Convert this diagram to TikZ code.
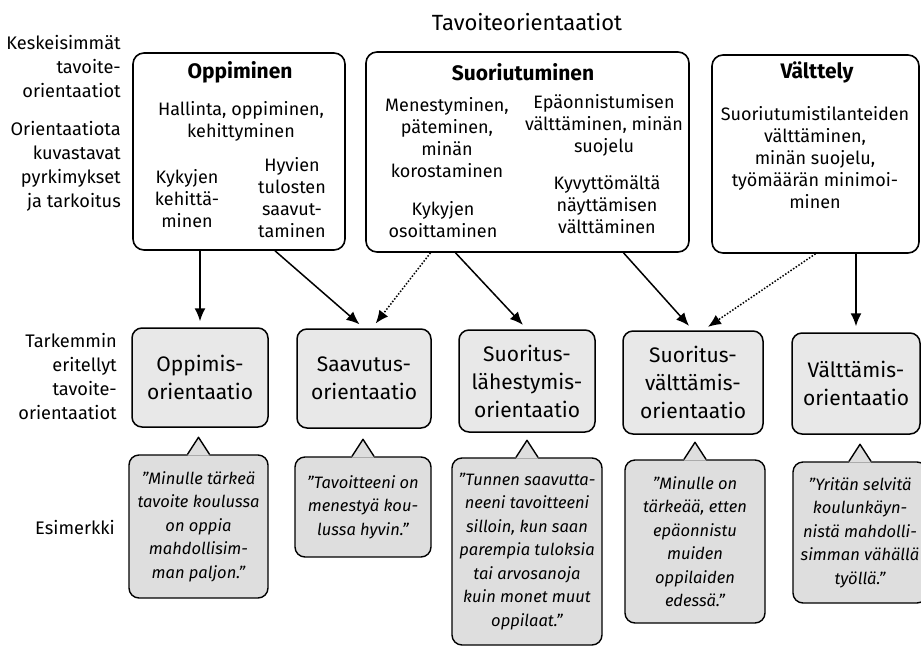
\documentclass[tikz,border=0pt]{standalone}
\usepackage{fontspec}
\setmainfont{Fira Sans}
\usepackage{xcolor}
\usetikzlibrary{arrows.meta}
\definecolor{boxgray}{HTML}{E8E8E8}
\definecolor{callgray}{HTML}{DEDEDE}
\tikzset{top/.style={draw,rounded corners=11pt,line width=1.6pt,inner sep=0pt},
  mid/.style={draw,fill=boxgray,rounded corners=10pt,line width=1.5pt,align=center,inner sep=0pt,font=\fontsize{21}{28}\selectfont},
  ex/.style={draw,fill=callgray,rounded corners=10pt,line width=1.4pt,align=center,inner sep=0pt,font=\fontsize{16.5}{23.5}\selectfont\itshape},
  ttl/.style={font=\fontsize{21}{24}\selectfont\bfseries},
  txt/.style={align=center,inner sep=0pt,font=\fontsize{18}{22}\selectfont},
  side/.style={align=right,anchor=east,inner sep=0pt,font=\fontsize{18.2}{24}\selectfont},
  arr/.style={->,line width=1.5pt,shorten >=6pt},
  dots/.style={->,line width=1.5pt,shorten >=6pt,dash pattern=on 1.5pt off 1.7pt}}

\begin{document}
\begin{tikzpicture}[x=1pt,y=-1pt,>={Latex[length=13pt,width=11pt]}]
        \useasboundingbox (0,0) rectangle (921,646);
        \node[txt,font=\fontsize{22}{24}\selectfont] (t) at (527,22) {Tavoiteorientaatiot};

        % rivien otsikot
        \node[side] (s1) at (121,67) {Keskeisimmät\\tavoite-\\orientaatiot};
        \node[side] (s2) at (121,166) {Orientaatiota\\kuvastavat\\pyrkimykset\\ja tarkoitus};
        \node[side] (s3) at (117,377) {Tarkemmin\\eritellyt\\tavoite-\\orientaatiot};
        \node[side] (s4) at (115,528) {Esimerkki};

        % keskeisimmat
        \node[top,minimum width=212pt,minimum height=197pt] (a) at (239,151.5) {};
        \node[top,minimum width=323pt,minimum height=200pt] (b) at (527.5,152) {};
        \node[top,minimum width=207pt,minimum height=198pt] (c) at (815.5,154) {};
        \node[ttl] (a0) at (240,72) {Oppiminen};
        \node[txt] (a1) at (241,121) {Hallinta, oppiminen,\\kehittyminen};
        \node[txt] (a2) at (187,199) {Kykyjen\\kehittä-\\minen};
        \node[txt] (a3) at (292,198) {Hyvien\\tulosten\\saavut-\\taminen};
        \node[ttl] (b0) at (523,72) {Suoriutuminen};
        \node[txt] (b1) at (447,138) {Menestyminen,\\päteminen,\\minän\\korostaminen};
        \node[txt] (b2) at (443,220) {Kykyjen\\osoittaminen};
        \node[txt] (b3) at (604,125) {Epäonnistumisen\\välttäminen, minän\\suojelu};
        \node[txt] (b4) at (607,205) {Kyvyttömältä\\näyttämisen\\välttäminen};
        \node[ttl] (c0) at (817,72) {Välttely};
        \node[txt] (c1) at (815,158) {Suoriutumistilanteiden\\välttäminen,\\minän suojelu,\\työmäärän minimoi-\\minen};

        % tarkemmat
        \node[mid,minimum width=136pt,minimum height=99pt] (m1) at (200,377.5) {Oppimis-\\orientaatio};
        \node[mid,minimum width=134pt,minimum height=99pt] (m2) at (364,378.5) {Saavutus-\\orientaatio};
        \node[mid,minimum width=136pt,minimum height=102pt] (m3) at (527,381) {Suoritus-\\lähestymis-\\orientaatio};
        \node[mid,minimum width=140pt,minimum height=103pt] (m4) at (693,382.5) {Suoritus-\\välttämis-\\orientaatio};
        \node[mid,minimum width=128pt,minimum height=101pt] (m5) at (856,383.5) {Välttämis-\\orientaatio};

        % esimerkit
        \node[ex,minimum width=139pt,minimum height=143pt] (e1) at (198.5,526.5) {”Minulle tärkeä\\tavoite koulussa\\on oppia\\mahdollisim-\\man paljon.”};
        \node[ex,minimum width=136pt,minimum height=100pt] (e2) at (363,507) {”Tavoitteeni on\\menestyä kou-\\lussa hyvin.”};
        \node[ex,minimum width=150pt,minimum height=187pt] (e3) at (527,551.5) {”Tunnen saavutta-\\neeni tavoitteeni\\silloin, kun saan\\parempia tuloksia\\tai arvosanoja\\kuin monet muut\\oppilaat.”};
        \node[ex,minimum width=140pt,minimum height=163pt] (e4) at (695,541.5) {”Minulle on\\tärkeää, etten\\epäonnistu\\muiden\\oppilaiden\\edessä.”};
        \node[ex,minimum width=134pt,minimum height=141pt] (e5) at (860,532.5) {”Yritän selvitä\\koulunkäyn-\\nistä mahdolli-\\simman vähällä\\työllä.”};
        \foreach \n in {1,...,5}{
            \fill[callgray] ([xshift=-11pt,yshift=-1.2pt]e\n.north) -- ([yshift=17pt]e\n.north) -- ([xshift=11pt,yshift=-1.2pt]e\n.north) -- cycle;
            \draw[line width=1.4pt,line join=round] ([xshift=-11pt]e\n.north) -- ([yshift=17pt]e\n.north) -- ([xshift=11pt]e\n.north);
        }

        \draw [arr] (m1.north |- a.south) to (m1.north);
        \draw [arr] ([xshift=36pt]a.south) to (m2.north);
        \draw [dots] ([xshift=-97pt]b.south) to ([xshift=8pt]m2.north);
        \draw [arr] ([xshift=-72pt]b.south) to (m3.north);
        \draw [arr] ([xshift=96pt]b.south) to (m4.north);
        \draw [dots] (c.south) to ([xshift=10pt]m4.north);
        \draw [arr] (m5.north |- c.south) to (m5.north);
    \end{tikzpicture}
\end{document}
